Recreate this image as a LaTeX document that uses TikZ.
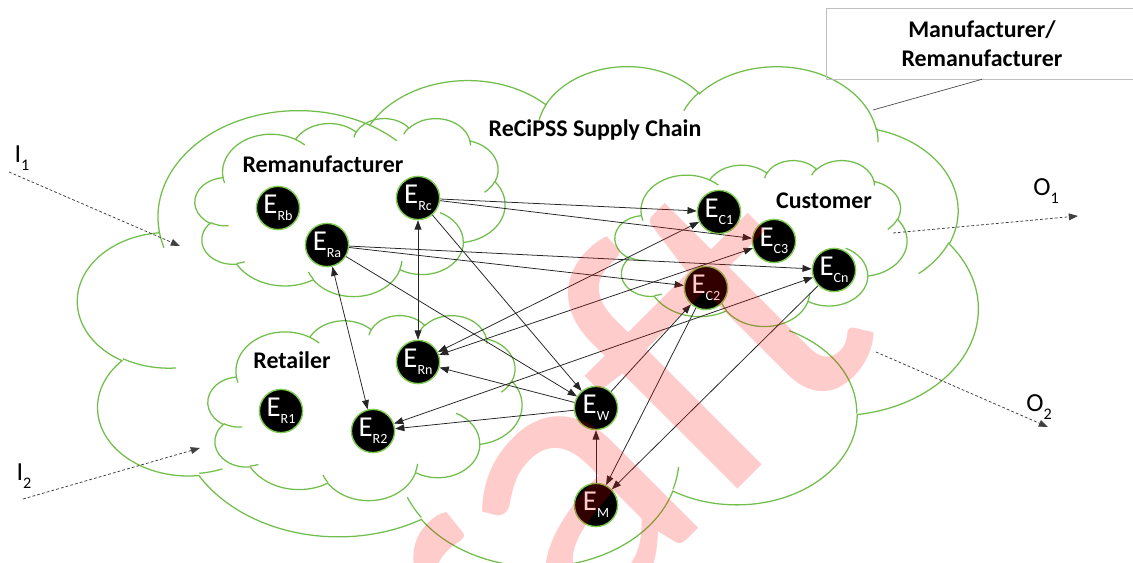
\documentclass[tikz,border=0pt]{standalone}
\usepackage{fontspec}
\setmainfont{Carlito}
\usetikzlibrary{
	arrows.meta,
	positioning,
}

\definecolor{cloudgreen}{RGB}{114,190,76}
\definecolor{ringgreen}{RGB}{128,204,84}

% E with a small lowered index, and the I/O labels
\newcommand{\ent}[1]{E\raisebox{-0.25em}{\fontsize{10}{10}\selectfont #1}}
\newcommand{\io}[2]{#1\raisebox{-0.3em}{\fontsize{11.5}{11.5}\selectfont #2}}

\tikzset{
	ooarc/.style n args={4}{
		x radius=#1, y radius=#2,
		start angle={atan2((#1)*sin(#3),(#2)*cos(#3))},
		delta angle={mod(atan2((#1)*sin(#3+#4),(#2)*cos(#3+#4))-atan2((#1)*sin(#3),(#2)*cos(#3))+720,360)},
	},
	entity node/.style={
		draw=ringgreen,
		fill=black,
		circle,
		inner sep=0mm,
		minimum size=1.08cm,
		line width=1pt,
		text=white,
		font=\fontsize{20.5}{20.5}\selectfont,
	},
	group label/.style={font=\bfseries\fontsize{17}{20}\selectfont},
	io label/.style={font=\fontsize{18.5}{18.5}\selectfont, inner sep=0mm},
	callout box/.style={
		draw=black!25,
		line width=0.4pt,
		minimum width=7.8cm,
		minimum height=1.775cm,
		align=center,
		font=\bfseries\fontsize{17}{20.6}\selectfont,
	},
	cloud line/.style={draw=cloudgreen, line width=0.9pt},
	flow/.style={draw=black!85, line width=0.55pt},
	io flow/.style={draw=black!75, line width=0.55pt, dash pattern=on 2pt off 1.5pt},
	watermark/.style={text=red, text opacity=0.2, rotate=45, font=\fontsize{285}{285}\selectfont},
}

% cloud outline with its inner hooks, fitted into a box (x, y, width, height)
\newcommand{\pptcloud}[4]{
\begin{scope}[shift={(#1,#2)}, xscale=#3/432, yscale=#4/432]
\draw[cloud line] (39.00,143.70)
	arc[ooarc={67.53}{91.90}{-190.48748}{123.78053}]
	arc[ooarc={53.33}{72.67}{-144.10238}{89.94523}]
	arc[ooarc={43.65}{59.45}{-145.80792}{99.72302}]
	arc[ooarc={48.57}{65.95}{-130.98607}{117.24173}]
	arc[ooarc={53.33}{72.73}{-78.70888}{109.02692}]
	arc[ooarc={67.75}{92.20}{-46.26725}{130.26900}]
	arc[ooarc={57.85}{78.67}{0.62502}{114.03333}]
	arc[ooarc={67.52}{92.15}{22.45160}{115.17255}]
	arc[ooarc={77.20}{105.43}{66.24263}{75.71102}]
	arc[ooarc={43.60}{59.18}{-274.94208}{146.73557}]
	arc[ooarc={43.45}{59.45}{-246.82850}{152.51885}] -- cycle;
\draw[cloud line]
	(46.93,261.77) arc[ooarc={43.45}{59.45}{86.74200}{26.42950}]
	(69.28,348.99) arc[ooarc={43.60}{59.18}{73.61047}{11.44747}]
	(164.78,390.90) arc[ooarc={67.52}{92.15}{137.62415}{14.08110}]
	(288.27,347.51) arc[ooarc={67.52}{92.15}{6.45327}{15.99835}]
	(341.29,229.54) arc[ooarc={57.85}{78.67}{-70.29235}{70.91737}]
	(417.98,153.54) arc[ooarc={53.33}{72.73}{30.31803}{27.75150}]
	(383.24,54.26) arc[ooarc={48.57}{65.95}{-13.74433}{14.85890}]
	(290.78,39.52) arc[ooarc={48.57}{65.95}{-149.18145}{18.19537}]
	(221.41,47.20) arc[ooarc={43.65}{59.45}{-163.49427}{17.68635}]
	(140.00,51.92) arc[ooarc={67.53}{91.90}{-66.70695}{12.31935}]
	(41.27,157.89) arc[ooarc={67.53}{91.90}{157.65435}{11.85817}];
\end{scope}
}

\begin{document}
\begin{tikzpicture}[x=0.025cm, y=0.025cm, yscale=-1, >={Triangle[length=2.3mm, width=1.7mm]}]
\useasboundingbox (0,0) rectangle (1133,563);

% clouds: supply chain, remanufacturer, retailer, customer
\pptcloud{78}{65}{900}{500}
\pptcloud{195}{118}{310}{178}
\pptcloud{208}{315}{314}{185}
\pptcloud{615}{160}{292}{166}

\node(chain)[group label] at (595,130) {ReCiPSS Supply Chain};
\node(reman)[group label] at (323,164) {Remanufacturer};
\node(retail)[group label] at (292,360) {Retailer};
\node(cust)[group label] at (824,201) {Customer};

\node(mfr)[callout box] at (982,43.5) {Manufacturer/\\Remanufacturer};
\coordinate(mfrtip) at (873,110);
\draw[draw=black!70, line width=0.5pt] (mfr.south) -- (mfrtip);

% entities
\node(eRb)[entity node] at (278,208) {\ent{Rb}};
\node(eRa)[entity node] at (327,245) {\ent{Ra}};
\node(eRc)[entity node] at (418,198) {\ent{Rc}};
\node(eRn)[entity node] at (418,362) {\ent{Rn}};
\node(eR1)[entity node] at (281,411) {\ent{R1}};
\node(eR2)[entity node] at (373,431) {\ent{R2}};
\node(eW)[entity node] at (596,408) {\ent{W}};
\node(eM)[entity node] at (596,505) {\ent{M}};
\node(eC1)[entity node] at (719,212) {\ent{C1}};
\node(eC3)[entity node] at (774,241) {\ent{C3}};
\node(eCn)[entity node] at (834,270) {\ent{Cn}};
\node(eC2)[entity node] at (706,288) {\ent{C2}};

\foreach \a/\b in {Rc/C1, Rc/C3, Rc/W, Ra/C2, Ra/Cn, Ra/W, W/Rn, W/R2, W/C2, M/W, C2/M, Cn/M}
\draw[flow, ->] (e\a) -- (e\b);

\foreach \a/\b in {Rc/Rn, Ra/R2, Rn/C1, Rn/C3, R2/Cn}
\draw[flow, <->] (e\a) -- (e\b);

% inputs and outputs
\node(i1)[io label] at (22,158) {\io{I}{1}};
\node(i2)[io label] at (24,476) {\io{I}{2}};
\node(o1)[io label] at (1046,191) {\io{O}{1}};
\node(o2)[io label] at (1039,407) {\io{O}{2}};

\coordinate(i1a) at (9,172);
\coordinate(i1b) at (180,246);
\coordinate(i2a) at (23,499);
\coordinate(i2b) at (200,448);
\coordinate(o1a) at (893,233);
\coordinate(o1b) at (1078,216);
\coordinate(o2a) at (876,352);
\coordinate(o2b) at (1048,427);

\foreach \p in {i1, i2, o1, o2}
\draw[io flow, ->] (\p a) -- (\p b);

\node(wm)[watermark] at (505,530) {Draft};

\end{tikzpicture}
\end{document}
